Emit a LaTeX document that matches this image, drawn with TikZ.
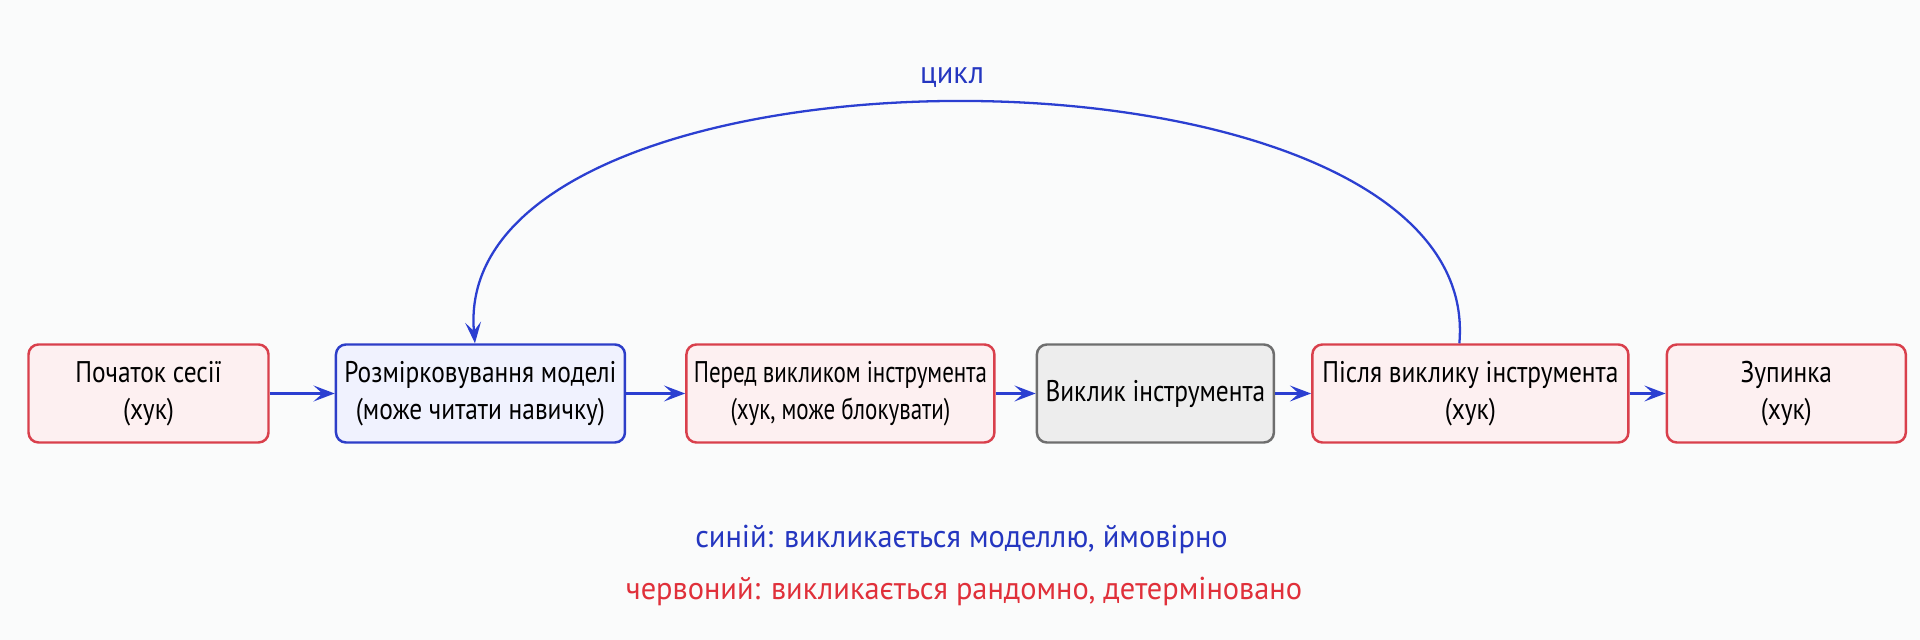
\documentclass[tikz,border=0pt]{standalone}
\usepackage{fontspec}
\setmainfont{PT Sans}[FakeStretch=0.85]
\newfontfamily\narrowfont{PT Sans}[FakeStretch=0.77]
\newfontfamily\legendfont{PT Sans}[FakeStretch=0.96]
\usepackage{tikz}
\usetikzlibrary{positioning, arrows.meta}

\definecolor{hookred}{RGB}{217,64,76}
\definecolor{hookfill}{RGB}{253,240,241}
\definecolor{modelblue}{RGB}{45,62,200}
\definecolor{modelfill}{RGB}{240,242,254}
\definecolor{toolgray}{RGB}{110,110,110}
\definecolor{toolfill}{RGB}{237,237,237}
\definecolor{arrowblue}{RGB}{43,63,209}
\definecolor{legendblue}{RGB}{36,54,192}
\definecolor{legendred}{RGB}{224,48,58}
\definecolor{paper}{RGB}{250,251,251}

\tikzset{
    box/.style={rectangle, rounded corners=0.2cm, line width=1.4pt, minimum height=1.96cm,
        align=center, inner sep=0pt, font=\fontsize{17}{21}\selectfont},
    hookbox/.style={box, draw=hookred, fill=hookfill},
    modelbox/.style={box, draw=modelblue, fill=modelfill},
    toolbox/.style={box, draw=toolgray, fill=toolfill},
    flow/.style={-{Stealth[length=12pt, width=9pt, inset=5pt]}, line width=1.7pt, draw=arrowblue},
    legend/.style={anchor=base, font=\legendfont\fontsize{18}{22}\selectfont},
}

\begin{document}
\begin{tikzpicture}
    \useasboundingbox[fill=paper] (0,0) rectangle (38.4,12.8);

    \node[hookbox, minimum width=4.80cm] (start) at (2.97,4.93) {Початок сесії\\(хук)};
    \node[modelbox, minimum width=5.78cm, right=1.30cm of start] (think) {Розмірковування моделі\\(може читати навичку)};
    \node[hookbox, minimum width=6.16cm, right=1.18cm of think, font=\narrowfont\fontsize{17}{21}\selectfont] (pre) {Перед викликом інструмента\\(хук, може блокувати)};
    \node[toolbox, minimum width=4.74cm, right=0.80cm of pre] (tool) {Виклик інструмента};
    \node[hookbox, minimum width=6.32cm, right=0.72cm of tool] (post) {Після виклику інструмента\\(хук)};
    \node[hookbox, minimum width=4.78cm, right=0.72cm of post] (stop) {Зупинка\\(хук)};

    \foreach \a/\b in {start/think, think/pre, pre/tool, tool/post, post/stop} {
        \draw[flow] (\a) -- (\b);
    }

    \draw[flow, line width=1.3pt] ([xshift=-0.22cm]post.north) to[out=85, in=95, looseness=0.84]
        node[midway, anchor=base, xshift=-0.3cm, yshift=0.38cm, text=legendblue, font=\legendfont\fontsize{18}{22}\selectfont] (looptext) {цикл}
        ([xshift=-0.11cm]think.north);

    \node[legend, text=legendblue] (bluenote) at (19.23,1.84) {синій: викликається моделлю, ймовірно};
    \node[legend, text=legendred] (rednote) at (19.28,0.80) {червоний: викликається рандомно, детерміновано};
\end{tikzpicture}
\end{document}
